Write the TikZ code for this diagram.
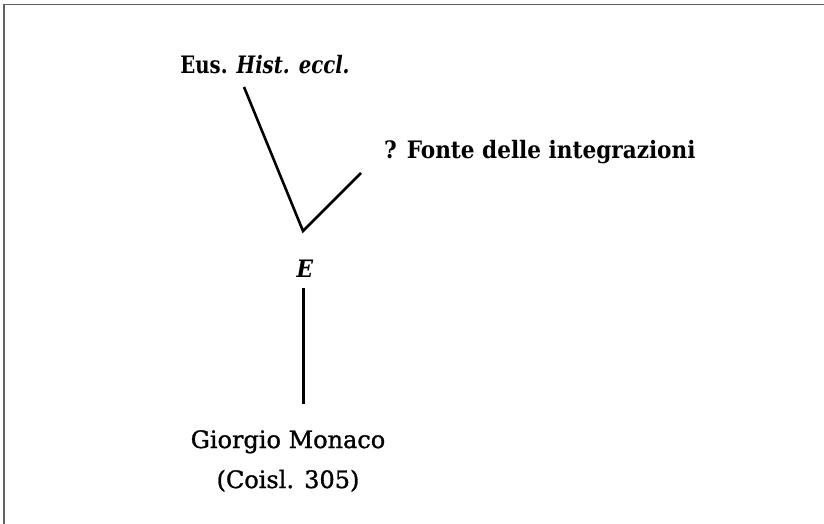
\documentclass[tikz,border=0pt]{standalone}
\usepackage{fontspec}
\setmainfont{DejaVu Serif Condensed}
\newfontfamily\widefont[FakeBold=1.2]{DejaVu Serif}
\tikzset{
  lbl/.style={inner sep=0pt, font=\fontsize{24}{28}\selectfont\bfseries},
  lblr/.style={inner sep=0pt, align=center, font=\widefont\fontsize{24}{40}\selectfont},
  edge/.style={line width=2.6pt, black},
  frame/.style={line width=1.2pt, gray!75!black}
}
\begin{document}
\begin{tikzpicture}[x=1pt,y=-1pt]
\useasboundingbox (0,0) rectangle (824,524);
\draw[frame] (4,524) -- (4,4.5) -- (824,4.5);
\node[lbl, anchor=base] (eus) at (265,74) {\scalebox{0.91}[1]{Eus. \textit{Hist. eccl.}}};
\node[lbl, anchor=base west] (fonte) at (384,158) {? Fonte delle integrazioni};
\node[lbl, anchor=base] (E) at (305,277) {\textit{E}};
\node[lblr, anchor=north] (gm) at (288,430) {Giorgio Monaco\\(Coisl. 305)};
\coordinate (j) at (303,231);
\coordinate (a1) at (244,87);
\coordinate (a2) at (361,173);
\coordinate (b1) at (303.5,288);
\coordinate (b2) at (303.5,404);
\draw[edge] (a1) -- (j) -- (a2);
\draw[edge] (b1) -- (b2);
\end{tikzpicture}
\end{document}
